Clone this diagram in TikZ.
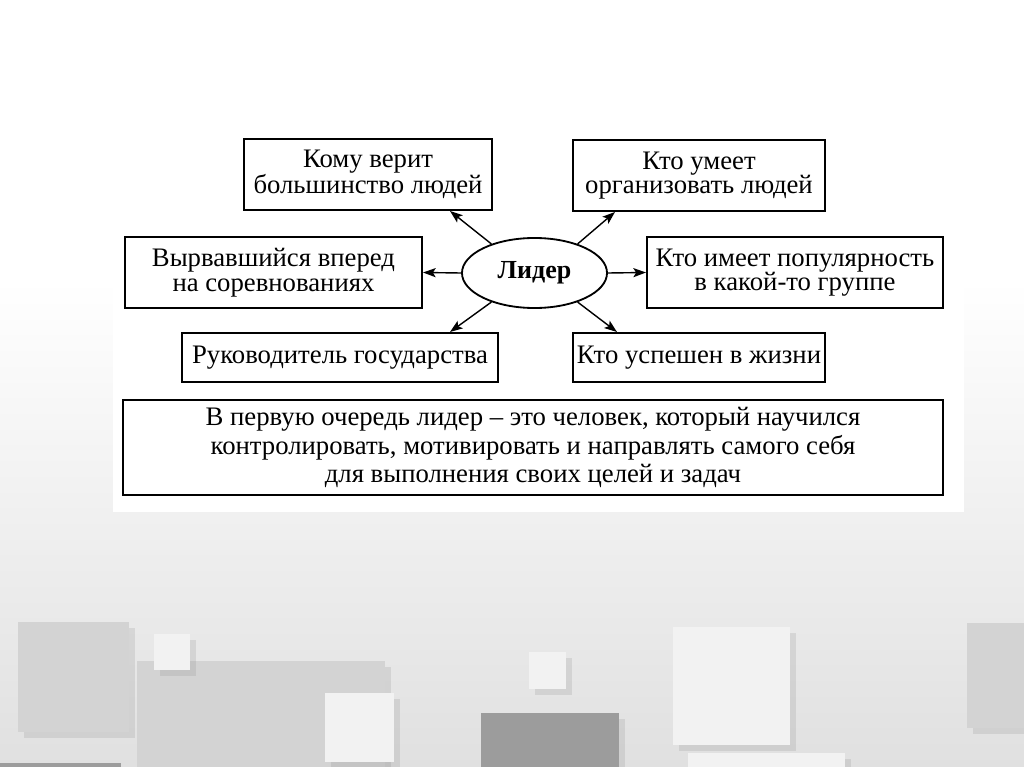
\documentclass[tikz,border=0pt]{standalone}
\usepackage{fontspec}
\setmainfont{Liberation Serif}
\usetikzlibrary{arrows.meta, positioning, shapes.geometric, calc, shadows}
\definecolor{slidegray}{RGB}{224,224,224}
\definecolor{tilelight}{RGB}{242,242,242}
\definecolor{tilemid}{RGB}{211,211,211}
\definecolor{tiledark}{RGB}{156,156,156}

\begin{document}
\begin{tikzpicture}[
		x=0.025cm, y=-0.025cm,
		box/.style={rectangle, draw, line width=1.4pt, inner sep=2pt, align=center, font=\fontsize{19}{17.5}\selectfont},
		oval/.style={ellipse, draw, line width=1.3pt, minimum width=3.625cm, minimum height=1.75cm, inner sep=0pt, font=\fontsize{18.5}{18.5}\selectfont\bfseries},
		link/.style={-{Stealth[length=9pt, width=6.5pt, inset=2pt]}, line width=1pt},
		tile/.style={drop shadow={opacity=0.18, shadow xshift=4pt, shadow yshift=-4pt}}
	]
	\useasboundingbox (0,0) rectangle (1024,767);
	
	% slide background and tiles
	\fill[white] (0,0) rectangle (1024,767);
	\shade[top color=white, bottom color=slidegray] (0,280) rectangle (1024,767);
	\fill[tilemid, tile] (18,622) rectangle (129,732);
	\fill[tilemid, tile] (137,661) rectangle (385,767);
	\fill[tilelight, tile] (154,634) rectangle (190,670);
	\fill[tilelight, tile] (325,693) rectangle (394,762);
	\fill[tiledark, tile] (481,713) rectangle (619,767);
	\fill[tilelight, tile] (529,652) rectangle (566,689);
	\fill[tilelight, tile] (673,627) rectangle (790,745);
	\fill[tilelight, tile] (688,753) rectangle (845,767);
	\fill[tilemid, tile] (967,623) rectangle (1024,728);
	\fill[tiledark] (0,763) rectangle (121,767);
	
	% white sheet
	\fill[white] (113,60) rectangle (964,512);
	
	\node[oval] (lid) at (534.5,273) {Лидер};
	\node[box, minimum width=6.2cm, minimum height=1.775cm] (kom) at (368,174.5) {Кому верит\\большинство людей};
	\node[box, minimum width=6.3cm, minimum height=1.775cm] (org) at (699,175.5) {Кто умеет\\организовать людей};
	\node[box, minimum width=7.425cm, minimum height=1.775cm] (vyr) at (273.5,272.5) {Вырвавшийся вперед\\на соревнованиях};
	\node[box, minimum width=7.4cm, minimum height=1.775cm] (pop) at (795,272.5) {Кто имеет популярность\\в какой-то группе};
	\node[box, minimum width=7.9cm, minimum height=1.225cm] (ruk) at (340,357.5) {Руководитель государства};
	\node[box, minimum width=6.3cm, minimum height=1.225cm] (usp) at (699,357.5) {Кто успешен в жизни};
	\node[box, minimum width=20.5cm, minimum height=2.375cm, font=\fontsize{19}{20.5}\selectfont] (itog) at (533,447.5) {В первую очередь лидер – это человек, который научился\\контролировать, мотивировать и направлять самого себя\\для выполнения своих целей и задач};
	
	\draw[link] (lid.146) -- ($(kom.south)+(82,0)$);
	\draw[link] (lid.west) -- (vyr.east);
	\draw[link] (lid.214) -- ($(ruk.north)+(110,0)$);
	\draw[link] (lid.34) -- ($(org.south)+(-84,0)$);
	\draw[link] (lid.east) -- (pop.west);
	\draw[link] (lid.-34) -- ($(usp.north)+(-82,0)$);
\end{tikzpicture}
\end{document}
